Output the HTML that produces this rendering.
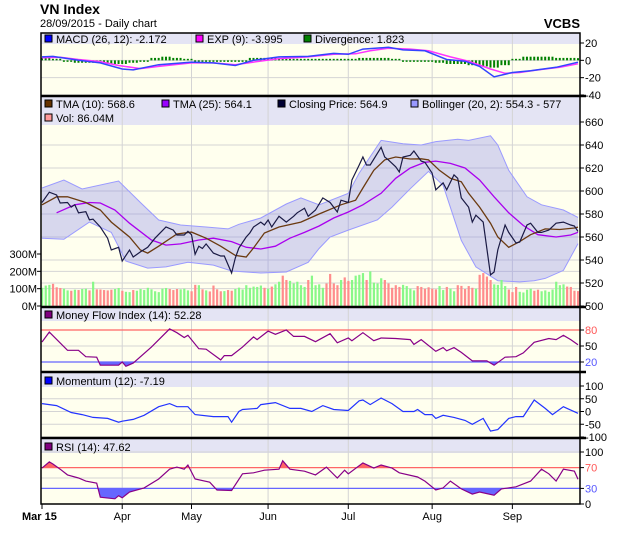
<!DOCTYPE html>
<html><head><meta charset="utf-8">
<style>
html,body{margin:0;padding:0;background:#fff;}
svg{display:block;font-family:"Liberation Sans",Arial,sans-serif;}
</style></head>
<body>
<svg id="chart" width="620" height="535" viewBox="0 0 620 535" xmlns="http://www.w3.org/2000/svg">
<text x="40" y="14" font-size="14" font-weight="bold" fill="#000">VN Index</text>
<text x="40" y="27" font-size="11" fill="#000">28/09/2015 - Daily chart</text>
<text x="580" y="28" font-size="13" font-weight="bold" text-anchor="end" fill="#000">VCBS</text>
<g id="layer"></g>
</svg>
<script>
// ---------- data ----------
const monthLabels = ["Mar 15","Apr","May","Jun","Jul","Aug","Sep"];
const monthDays = [0,22,41,62,84,107,129];
const closeDays = [0,2,4,5,7,8,9,10,12,13,14,16,18,19,21,22,24,25,27,29,31,34,36,37,39,40,41,42,43,44,45,47,49,50,52,53,54,56,57,58,60,61,62,63,65,67,69,70,72,73,75,77,79,81,82,84,85,87,88,89,90,93,94,95,97,98,99,101,102,104,105,107,108,110,111,113,114,115,117,118,119,121,123,124,125,127,128,130,131,133,134,136,137,139,141,143,145,146,147];
const closeVals = [590,599,596.5,589.6,590,586,588,581,582,575,575.6,568.7,559,548.7,551,539,548.7,542.6,547,551,559,568.7,566,561.7,561.7,565,562,545,552,550,554,546,543.5,543.5,528.7,541.7,550.4,560,563.5,568.7,573,570.4,574.8,568.7,578,573,578,581,585,578,583.5,594,590,581.7,592,590,609.6,622.6,629.6,622.6,622.6,638,629.6,627,621,616.5,629.6,631,634.8,626,625,615.6,601,607,601,614,611,594,586,573,579,573,527,529.6,548.7,570.4,564,554.8,555.6,570.4,572,564,564,566,572,573,570.4,569.6,564.9];
const tma10Days = [0,4,7,12,16,19,24,27,29,32,37,41,45,49,53,56,58,61,65,71,76,82,86,88,91,94,97,101,104,106,109,112,115,117,120,123,125,128,131,134,138,142,146,147];
const tma10Vals = [588,595,595,590,583.5,573,560,548.7,546,552,562.6,564.3,559,552,544,542.6,550.4,563.5,568.7,573,580,588,592,602.6,618,627,629.6,627.8,628,627,618,611,608,598,586,572,560,551,556,562,567,566.5,567.8,568.6];
const tma25Days = [4,9,13,16,20,24,30,34,38,43,47,52,56,60,64,68,72,76,80,84,88,93,97,101,105,108,112,116,120,124,128,132,136,141,145,147];
const tma25Vals = [581,588,590,589.6,583.5,572,557.4,553,554,557.4,559,556,551,549.6,552,559,564,569.6,576.5,581.7,588,598,611,620,625,626,624,620,609.6,595,581,570,562,560,561.7,564.1];
const bbUpDays = [0,6,11,21,27,32,38,45,51,54,60,67,71,76,84,87,93,99,104,108,114,117,123,125,128,133,137,143,147];
const bbUpVals = [602.6,609.6,601.7,608.7,590,574.8,570.4,568.7,567,571,576.5,588.7,594,588,598,615.6,644,641,640,643,645,644,648,640,618,595,588,583.5,577];
const bbLoDays = [0,6,13,19,23,29,34,40,47,52,60,67,73,76,79,84,92,96,101,106,110,115,119,125,131,135,138,143,147];
const bbLoVals = [559,558,573,564,539,533,534,538,535.6,530.4,528.7,529.6,538,550,560,566,575,586,602,617,605,557,534,522,521,522,524,531,554.3];
const volumes = [105,118,122,128,108,104,100,90,88,94,92,98,100,90,140,96,95,92,90,94,98,104,88,82,80,92,88,98,92,105,96,85,80,100,104,98,92,98,96,100,90,85,122,120,96,90,84,118,96,85,86,92,88,98,106,95,120,105,112,110,118,105,100,112,125,140,175,150,145,130,140,120,110,150,175,120,125,105,130,185,130,120,150,165,145,150,175,180,190,150,200,135,130,160,150,130,105,120,110,122,115,100,90,115,110,100,108,100,96,115,92,110,100,85,120,116,98,115,105,100,180,190,170,150,125,122,150,115,95,80,110,82,78,94,100,88,94,85,90,82,95,140,120,125,112,110,88,86];
const macdDays = [0,3,10,16,22,25,32,41,47,53,58,65,73,80,84,88,95,99,105,111,116,120,124,129,134,141,147];
const macdVals = [4,4.5,0,-3,-10,-11,-5,-2,-3,-6,0,4,4.5,8,7,13,15,12,11,1,-1,-7,-19,-14,-12,-8,-2.2];
const sigDays = [0,5,10,16,21,27,32,41,47,53,58,65,73,80,86,90,95,101,106,112,117,123,127,131,136,142,147];
const sigVals = [3,3.5,1,-1.5,-6,-9.5,-7,-3,-3,-5,-2,2,4,7,7.5,11,14,13,11,4,-1,-10,-15,-14,-11,-8,-4];
const divDays = [0,3,6,9,12,15,18,21,24,27,30,33,36,39,42,45,48,51,54,57,60,63,66,69,72,75,78,81,84,87,90,93,96,99,102,105,108,111,114,117,120,123,126,129,132,135,138,141,144,147];
const divVals = [2,1,-1,-2,-2,-2,-3,-3,-2,-1,2,3,2,1,-1,-1,-1,-1,-1,2,2,2,1,1,0,1,0,1,0,2,2,2,1,-1,-1,-1,-2,-3,-3,-4,-5,-6,-4,0,3,3,3,2,2,1.8];
const mfiDays = [0,2,7,10,12,15,16,21,22,23,25,30,35,37,39,40,43,45,49,50,52,55,58,59,62,64,67,69,72,75,79,81,84,85,88,91,93,97,101,102,104,108,110,111,113,115,118,122,124,127,130,132,135,139,141,143,145,147];
const mfiVals = [57.5,76,42,42,30,29,14,14,20,12,18,48,82,75,66,70,45,44,24,32,32,48,67,62,78,72,80,68,68,58,73,56,65,60,75,60,65,64,62,53,62,40,47,41,47,38,22,22,14,29,30,37,57,64,62,70,62,52.28];
const momDays = [0,4,8,11,14,18,21,22,25,28,32,35,37,40,42,47,51,52,54,55,59,60,64,68,71,74,77,80,84,87,88,90,93,96,99,102,103,105,107,108,110,113,116,118,121,123,125,128,130,132,135,138,140,143,144,147];
const momVals = [31,23,-4,-12,-23,-27,-42,-38,-31,-15,19,31,19,19,-12,-20,-20,-42,0,8,12,27,35,12,12,0,23,8,4,42,45,27,53,31,0,0,8,-12,-12,-27,-15,-23,-35,-50,-27,-77,-71,-27,-20,-20,45,12,-12,19,12,-7.19];
const rsiDays = [0,2,3,5,7,10,12,15,16,20,21,22,24,28,32,35,37,39,40,42,46,48,52,55,58,61,65,66,68,72,75,78,81,83,84,88,91,93,96,98,103,105,108,110,112,115,118,120,124,126,130,134,137,139,141,143,146,147];
const rsiVals = [69,81,77,67,56,50,44,40,13,10,16,12,23,31,48,67,71,67,75,48,42,27,26,58,60,65,67,83,67,63,56,71,50,65,58,79,69,75,69,60,52,44,27,31,44,29,19,23,17,29,33,44,67,58,44,67,63,47.62];
const macdTicks = [20,0,-20,-40];
const priceTicks = [660,640,620,600,580,560,540,520,500];
const volTicks = [0,100,200,300];
const mfiTicks = [80,50,20];
const momTicks = [100,50,0,-50,-100];
const rsiTicks = [100,70,30,0];

// ---------- geometry ----------
const X0 = 41, X1 = 580, NDAYS = 147;
const xd = d => 42 + d * (536 / NDAYS);
const lin = (v0, y0, v1, y1) => v => y0 + (v - v0) * (y1 - y0) / (v1 - v0);
const yMacd = lin(20, 43, -40, 95);
const yPrice = lin(660, 122, 500, 306);
const yVol = lin(0, 306, 300, 254);
const yMfi = lin(80, 330, 20, 362);
const yMom = lin(100, 386, -100, 437);
const yRsi = lin(100, 452, 0, 504);

const NS = "http://www.w3.org/2000/svg";
const layer = document.getElementById("layer");
function mk(tag, attrs, parent) {
  const e = document.createElementNS(NS, tag);
  for (const k in attrs) e.setAttribute(k, attrs[k]);
  (parent || layer).appendChild(e);
  return e;
}
function pts(days, vals, ys) { return days.map((d, i) => xd(d).toFixed(1) + "," + ys(vals[i]).toFixed(1)).join(" "); }

const panels = [
  {name:"macd", top:33, bot:96, head:[33,44]},
  {name:"price", top:96, bot:307, head:[97,125]},
  {name:"mfi", top:307, bot:372, head:[308,321]},
  {name:"momentum", top:372, bot:438, head:[373,387]},
  {name:"rsi", top:438, bot:504, head:[439,453]}
];
panels.forEach(p => {
  const bg = mk("rect", {x:X0, y:p.top, width:X1-X0, height:p.bot-p.top, fill:"#ffffee"});
  
  
  const hd = mk("rect", {x:X0, y:p.head[0], width:X1-X0, height:p.head[1]-p.head[0], fill:"#e4e4f4"});
  
  
  monthDays.forEach((d, i) => {
    if (i === 0) return;
    const g = mk("line", {x1:xd(d), x2:xd(d), y1:p.top, y2:p.bot, stroke:"#d4d4d4", "stroke-width":1});
    
    
  });
});

function hGrid(ticks, ys, minY, colorFn) {
  ticks.forEach(t => {
    const y = ys(t);
    if (y < minY) return;
    const c = colorFn ? colorFn(t) : "#d4d4d4";
    const l = mk("line", {x1:X0, x2:X1, y1:y, y2:y, stroke:c, "stroke-width":1});
    
    
  });
}
function axisLabels(ticks, ys, name, colorFn) {
  ticks.forEach(t => {
    const y = ys(t);
    mk("line", {x1:X1, x2:X1+4, y1:y, y2:y, stroke:"#000"});
    const tx = mk("text", {x:X1+5, y:y+4, "font-size":11, fill: colorFn ? colorFn(t) : "#000"});
    tx.textContent = String(t);
    
    
  });
}
function legend(items, y) {
  items.forEach(it => {
    mk("rect", {x:it.x, y:y-8, width:7, height:7, fill:it.c, stroke:"#000", "stroke-width":1});
    const t = mk("text", {x:it.x+11, y:y, "font-size":11, fill:"#000"});
    t.textContent = it.t;
    
    
  });
}

// ---- MACD ----
hGrid(macdTicks, yMacd, 44);
divDays.forEach((d, i) => {
  const y0 = yMacd(0), y1 = yMacd(divVals[i]);
  const h = Math.max(1.5, Math.abs(y1-y0)*1.4);
  for (let k = 0; k < 3 && d + k <= NDAYS; k++) {
    const r = mk("rect", {x:xd(d+k)-1, y: divVals[i] >= 0 ? y0 - h : y0, width:2, height:h, fill:"#008000"});
    
    
  }
});
let l = mk("polyline", {points:pts(sigDays, sigVals, yMacd), fill:"none", stroke:"#ff33ff", "stroke-width":1.5});


l = mk("polyline", {points:pts(macdDays, macdVals, yMacd), fill:"none", stroke:"#3344ff", "stroke-width":1.5});


axisLabels(macdTicks, yMacd, "macd");
legend([{x:45,c:"#0000ff",t:"MACD (26, 12): -2.172",n:"macd-legend"},{x:196,c:"#ff00ff",t:"EXP (9): -3.995",n:"exp-legend"},{x:304,c:"#008000",t:"Divergence: 1.823",n:"divergence-legend"}], 43);

// ---- Price ----
hGrid(priceTicks, yPrice, 126);
[100,200].forEach(v => mk("line", {x1:X0, x2:X1, y1:yVol(v), y2:yVol(v), stroke:"#d4d4d4"}));
const bandPts = pts(bbUpDays, bbUpVals, yPrice) + " " + bbLoDays.map((d,i)=>xd(d).toFixed(1)+","+yPrice(bbLoVals[i]).toFixed(1)).reverse().join(" ");
l = mk("polygon", {points:bandPts, fill:"rgba(140,140,235,0.35)", stroke:"none"});


l = mk("polyline", {points:pts(bbUpDays, bbUpVals, yPrice), fill:"none", stroke:"#9a9aff", "stroke-width":1});


l = mk("polyline", {points:pts(bbLoDays, bbLoVals, yPrice), fill:"none", stroke:"#9a9aff", "stroke-width":1});


function closeTrendUp(d) {
  for (let i = 1; i < closeDays.length; i++) if (d <= closeDays[i]) return closeVals[i] >= closeVals[i-1];
  return true;
}
volumes.forEach((v, d) => {
  const y = yVol(v);
  const r = mk("rect", {x:xd(d)-1, y:y, width:2.2, height:yVol(0)-y, fill: closeTrendUp(d) ? "#88f888" : "#ff8c8c"});
  
  
});
l = mk("polyline", {points:pts(tma25Days, tma25Vals, yPrice), fill:"none", stroke:"#aa00ee", "stroke-width":1.3});


l = mk("polyline", {points:pts(tma10Days, tma10Vals, yPrice), fill:"none", stroke:"#6b3a10", "stroke-width":1.3});


l = mk("polyline", {points:pts(closeDays, closeVals, yPrice), fill:"none", stroke:"#1a1a44", "stroke-width":1.2});


axisLabels(priceTicks, yPrice, "price");
volTicks.forEach(v => {
  const y = yVol(v);
  mk("line", {x1:X0-4, x2:X0, y1:y, y2:y, stroke:"#000"});
  const t = mk("text", {x:X0-4, y:y+4, "font-size":11, "text-anchor":"end", fill:"#000"});
  t.textContent = v + "M";
  
  
});
legend([{x:45,c:"#663300",t:"TMA (10): 568.6",n:"tma10-legend"},{x:162,c:"#9900ff",t:"TMA (25): 564.1",n:"tma25-legend"},{x:278,c:"#000033",t:"Closing Price: 564.9",n:"close-legend"},{x:411,c:"#9999ff",t:"Bollinger (20, 2): 554.3 - 577",n:"bollinger-legend"}], 108);
legend([{x:45,c:"#ff9999",t:"Vol: 86.04M",n:"volume-legend"}], 122);

// ---- oscillator helper ----
function oscillator(days, vals, ys, hi, lo, lineColor, name, top, bot) {
  const p = pts(days, vals, ys);
  const x0 = xd(days[0]), x1 = xd(days[days.length-1]);
  const id = name + "clip";
  const defs = mk("defs", {});
  const c1 = mk("clipPath", {id:id+"hi"}, defs); mk("rect", {x:X0, y:top, width:X1-X0, height:ys(hi)-top}, c1);
  const c2 = mk("clipPath", {id:id+"lo"}, defs); mk("rect", {x:X0, y:ys(lo), width:X1-X0, height:bot-ys(lo)}, c2);
  let f = mk("polygon", {points:x0+","+ys(hi)+" "+p+" "+x1+","+ys(hi), fill:"#ff6666", "clip-path":"url(#"+id+"hi)"});
  
  
  f = mk("polygon", {points:x0+","+ys(lo)+" "+p+" "+x1+","+ys(lo), fill:"#6666ff", "clip-path":"url(#"+id+"lo)"});
  
  
  mk("line", {x1:X0, x2:X1, y1:ys(hi), y2:ys(hi), stroke:"#ff6666", "stroke-width":1.2});
  mk("line", {x1:X0, x2:X1, y1:ys(lo), y2:ys(lo), stroke:"#6666ff", "stroke-width":1.2});
  const ln = mk("polyline", {points:p, fill:"none", stroke:lineColor, "stroke-width":1.2});
  
  
}

// ---- MFI ----
hGrid([50], yMfi, 0);
oscillator(mfiDays, mfiVals, yMfi, 80, 20, "#880088", "mfi", 321, 372);
axisLabels(mfiTicks, yMfi, "mfi", t => t===80 ? "#ff5555" : t===20 ? "#5555ff" : "#000");
legend([{x:45,c:"#800080",t:"Money Flow Index (14): 52.28",n:"mfi-legend"}], 319);

// ---- Momentum ----
hGrid(momTicks, yMom, 387);
l = mk("polyline", {points:pts(momDays, momVals, yMom), fill:"none", stroke:"#2233ff", "stroke-width":1.2});


axisLabels(momTicks, yMom, "momentum");
legend([{x:45,c:"#0000ff",t:"Momentum (12): -7.19",n:"momentum-legend"}], 385);

// ---- RSI ----
hGrid([100,50], yRsi, 452);
oscillator(rsiDays, rsiVals, yRsi, 70, 30, "#880088", "rsi", 453, 504);
axisLabels(rsiTicks, yRsi, "rsi", t => t===70 ? "#ff5555" : t===30 ? "#5555ff" : "#000");
legend([{x:45,c:"#800080",t:"RSI (14): 47.62",n:"rsi-legend"}], 451);

// ---- frames ----
mk("rect", {x:X0, y:33, width:X1-X0, height:471, fill:"none", stroke:"#000", "stroke-width":1.5});
[96,307,372,438].forEach(y => mk("line", {x1:X0, x2:X1+6, y1:y, y2:y, stroke:"#000", "stroke-width":2.5}));
// x axis
monthDays.forEach((d, i) => {
  mk("line", {x1:xd(d), x2:xd(d), y1:504, y2:509, stroke:"#000"});
  const t = mk("text", {x: i===0 ? 22 : xd(d), y:520, "font-size":11, "text-anchor": i===0 ? "start" : "middle", "font-weight": i===0 ? "bold" : "normal", fill:"#000"});
  t.textContent = monthLabels[i];
  
  
});
</script>
</body></html>
